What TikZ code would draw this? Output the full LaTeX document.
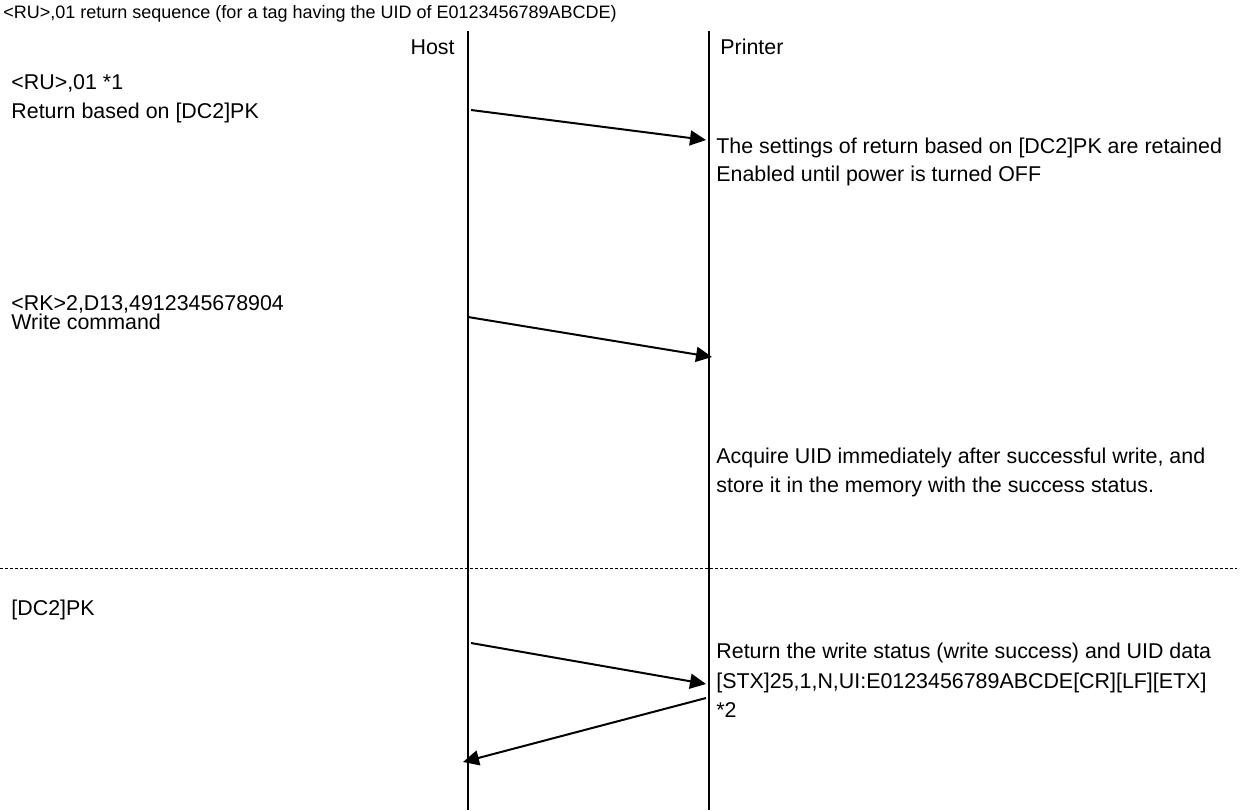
\documentclass[tikz,border=0pt]{standalone}
\usepackage{fontspec}
\setmainfont{Liberation Sans}
\usetikzlibrary{arrows.meta}
\begin{document}
\begin{tikzpicture}[x=0.5pt, y=-0.5pt,
    lifeline/.style={line width=1pt},
    msg/.style={line width=1pt, -{Triangle[length=8pt, width=7.5pt]}},
    txt/.style={font=\fontsize{10.7pt}{12pt}\selectfont, anchor=base west, inner sep=0pt}]
  \useasboundingbox (0,0) rectangle (1245,810);
  % title and lifelines
  \node[font=\fontsize{9pt}{11pt}\selectfont, anchor=base west, inner sep=0pt] (title) at (3,18) {<RU>,01 return sequence (for a tag having the UID of E0123456789ABCDE)};
  \node[txt, anchor=base east] (host) at (455,54) {Host};
  \node[txt] (printer) at (720,54) {Printer};
  \coordinate (hosttop) at (468,31);
  \coordinate (hostbot) at (468,810);
  \coordinate (prntop) at (709,31);
  \coordinate (prnbot) at (709,810);
  \draw[lifeline] (hosttop) -- (hostbot);
  \draw[lifeline] (prntop) -- (prnbot);
  % <RU>,01
  \node[txt] (ru) at (11,89) {<RU>,01 *1};
  \node[txt] (rubased) at (11,118) {Return based on [DC2]PK};
  \coordinate (m1s) at (471,110);
  \coordinate (m1e) at (706,140);
  \draw[msg] (m1s) -- (m1e);
  \node[txt] (settings) at (716,153) {The settings of return based on [DC2]PK are retained};
  \node[txt] (enabled) at (716,181) {Enabled until power is turned OFF};
  % <RK> write
  \node[txt] (rk) at (11,310) {<RK>2,D13,4912345678904};
  \node[txt] (write) at (11,329) {Write command};
  \coordinate (m2s) at (468,317);
  \coordinate (m2e) at (712,357);
  \draw[msg] (m2s) -- (m2e);
  \node[txt] (acquire) at (716,463) {Acquire UID immediately after successful write, and};
  \node[txt] (store) at (716,492) {store it in the memory with the success status.};
  % separator
  \coordinate (sepl) at (0,568);
  \coordinate (sepr) at (1237,568);
  \draw[line width=0.5pt, dash pattern=on 1.5pt off 1pt] (sepl) -- (sepr);
  % [DC2]PK
  \node[txt] (pk) at (11,615) {[DC2]PK};
  \coordinate (m3s) at (471,643);
  \coordinate (m3e) at (706,684);
  \draw[msg] (m3s) -- (m3e);
  \node[txt] (retstat) at (716,658) {Return the write status (write success) and UID data};
  \node[txt] (stx) at (716,688) {[STX]25,1,N,UI:E0123456789ABCDE[CR][LF][ETX]};
  \node[txt] (note2) at (716,717) {*2};
  \coordinate (m4s) at (706,698);
  \coordinate (m4e) at (463,762);
  \draw[msg] (m4s) -- (m4e);
\end{tikzpicture}
\end{document}
